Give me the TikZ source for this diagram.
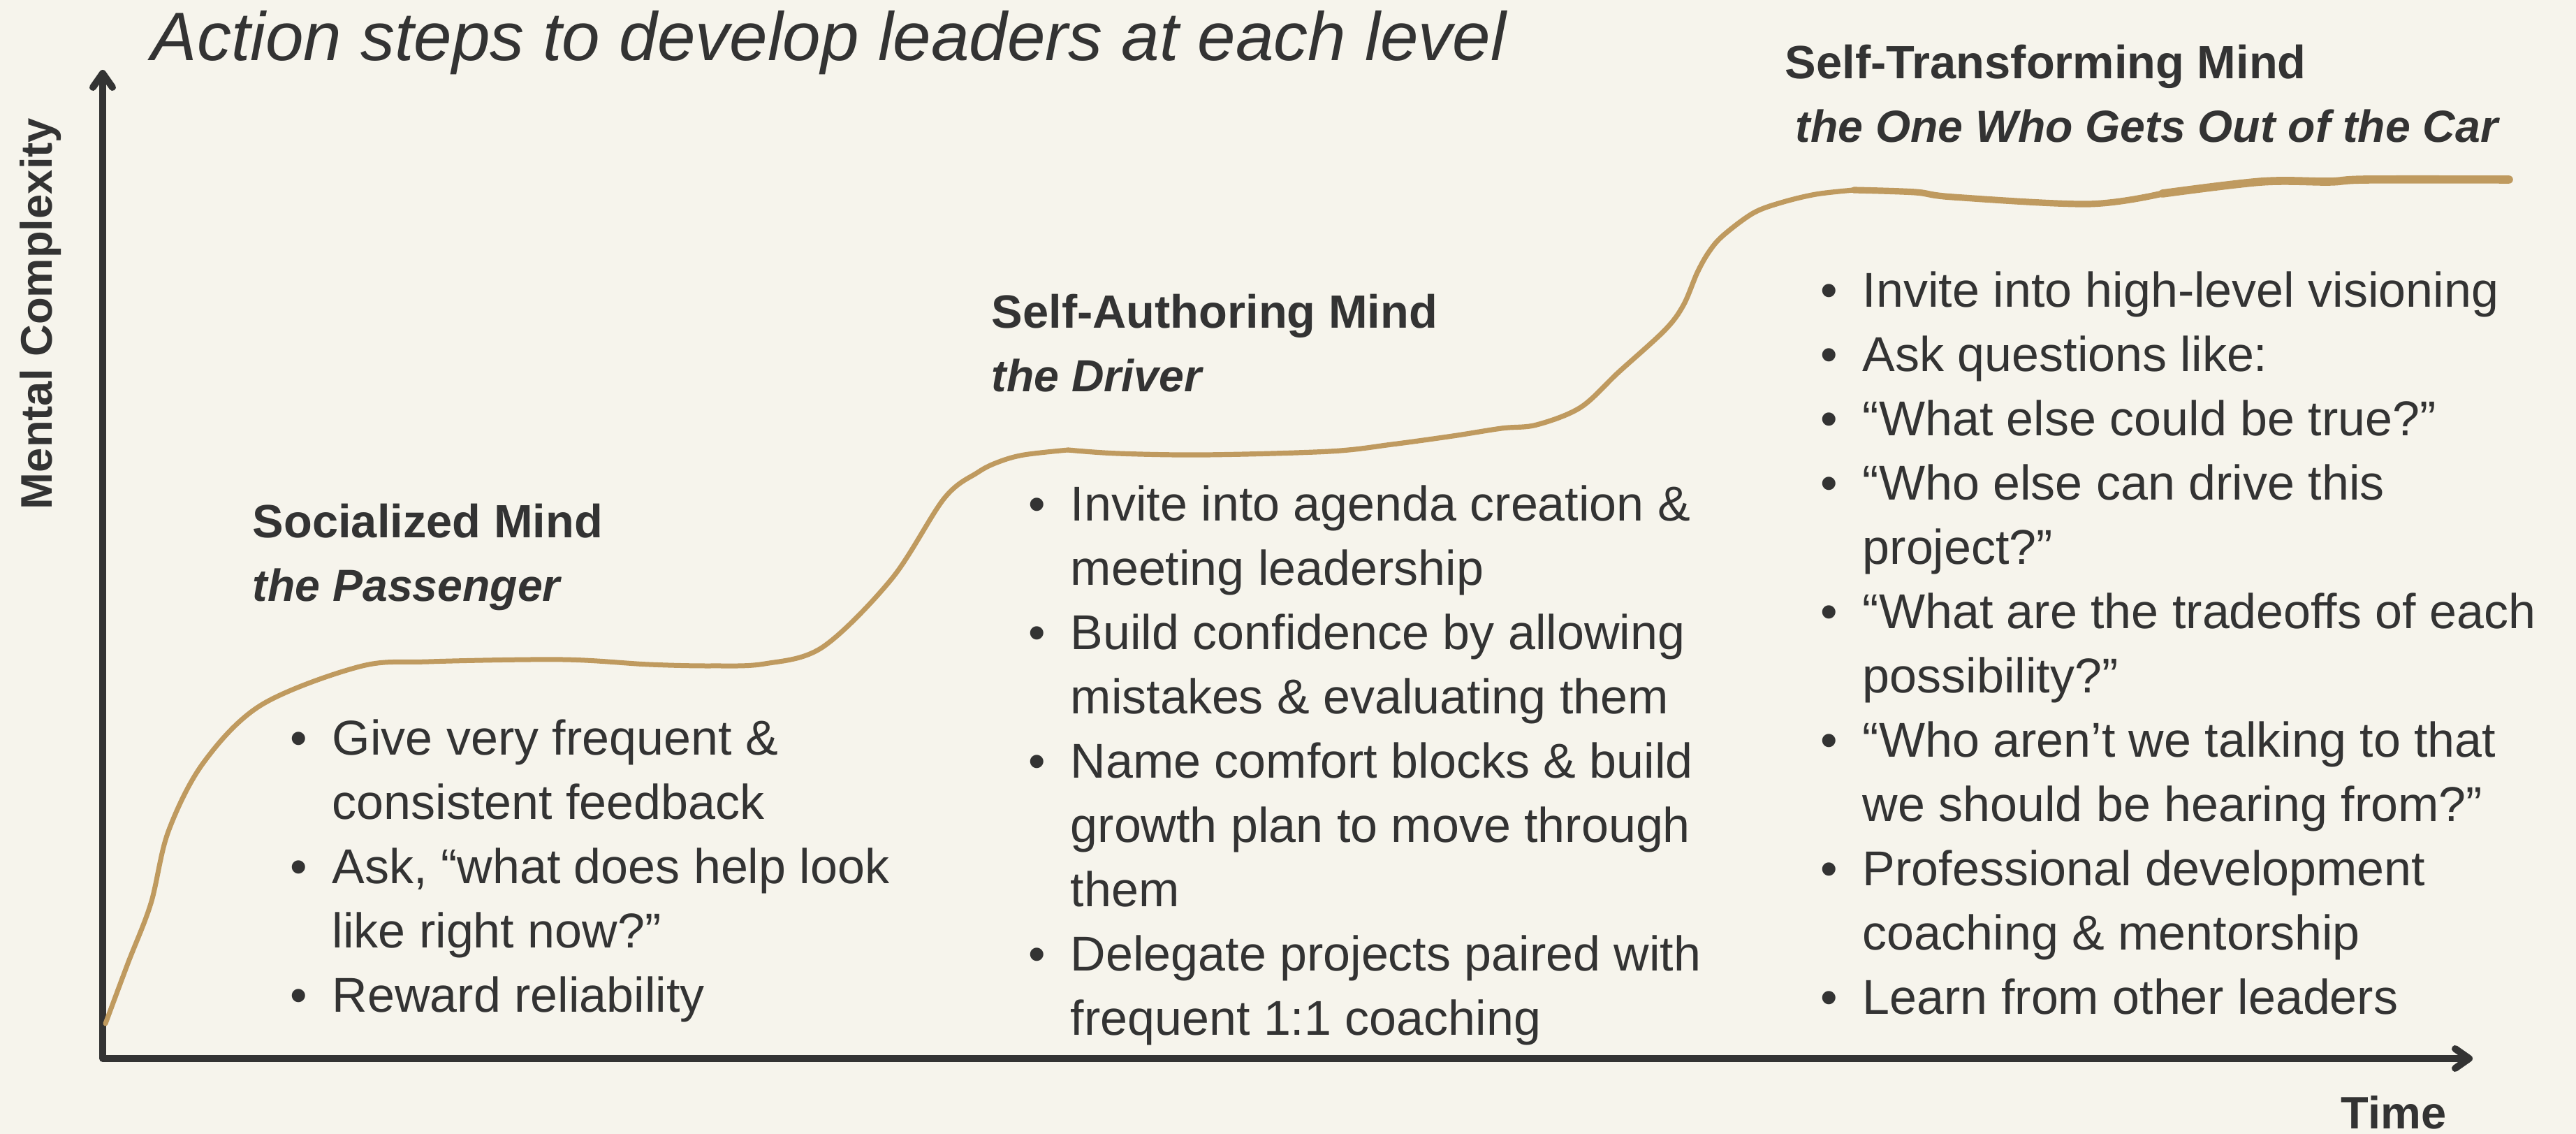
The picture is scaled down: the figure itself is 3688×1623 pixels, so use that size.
\documentclass[tikz,border=0pt]{standalone}
\usepackage{fontspec}
\usepackage{graphicx}
\setmainfont{Liberation Sans}
\usetikzlibrary{arrows.meta}
\definecolor{bg}{HTML}{F6F4EC}
\definecolor{ink}{HTML}{333333}
\definecolor{tan}{HTML}{BF9A5F}
\newcommand{\bodyfont}{\fontsize{17.5pt}{23pt}\selectfont}
\newcommand{\headfont}{\fontsize{16.7pt}{22.75pt}\selectfont\bfseries}
\newcommand{\headit}{\fontsize{16.1pt}{22.75pt}\selectfont\bfseries\itshape}
\newcommand{\linestack}[2]{\vtop{\baselineskip=#1\lineskiplimit=-1000pt\lineskip=0pt #2}}
\newcommand{\itm}[1]{\hbox{\llap{\textbullet\hspace{9pt}}#1}}
\newcommand{\cnt}[1]{\hbox{#1}}
\tikzset{
  body/.style={font=\bodyfont, text=ink, inner sep=0pt, anchor=base west},
  head/.style={font=\headfont, text=ink, inner sep=0pt, anchor=base west},
  axisline/.style={draw=ink, line width=2.5pt, line cap=round, line join=round,
    arrows={Straight Barb[length=5pt,width=7pt,line cap=round,line join=round]-Straight Barb[length=5pt,width=7pt,line cap=round,line join=round]}},
  curve/.style={draw=tan, line cap=round, line join=round}
}
\begin{document}
\begin{tikzpicture}[x=0.25pt, y=-0.25pt]
\fill[bg] (0,0) rectangle (3688,1623);
\useasboundingbox (0,0) rectangle (3688,1623);

% title
\node[inner sep=0pt, anchor=base west, text=ink, font=\fontsize{24.5pt}{30pt}\selectfont\itshape] (title) at (216,87) {Action steps to develop leaders at each level};

% axes
\coordinate (O) at (147,1515);
\coordinate (ytip) at (147,100);
\coordinate (xtip) at (3540,1515);
\draw[axisline] (ytip) -- (O) -- (xtip);

\node[inner sep=0pt, anchor=base, rotate=90, text=ink, font=\fontsize{15.85pt}{19pt}\selectfont\bfseries] (ylab) at (74,449) {Mental Complexity};
\node[inner sep=0pt, anchor=base, text=ink, font=\fontsize{16.25pt}{19pt}\selectfont\bfseries] (xlab) at (3427,1616) {Time};

% curve
\draw[curve, line width=1.75pt] plot[smooth, tension=0.55] coordinates {
 (151,1465) (183,1379) (216,1293) (241,1190) (291,1092) (374,1009) (515,954)
 (614,947) (805,944) (929,951) (1020,953) (1095,950) (1178,926) (1277,828)
 (1352,713) (1400,676) (1430,661) (1466,651) (1529,644)};
\draw[curve, line width=1.8pt] plot[smooth, tension=0.55] coordinates {
 (1529,644) (1600,649) (1725,651) (1904,646) (1993,636) (2080,624) (2150,613)
 (2200,608) (2263,583) (2317,533) (2383,473) (2410,437) (2430,390) (2447,360)
 (2467,337) (2510,305) (2550,290) (2600,278) (2654,272)};
\draw[curve, line width=2.3pt] plot[smooth, tension=0.55] coordinates {
 (2654,272) (2742,275) (2796,282) (2990,292) (3096,277)};
\draw[curve, line width=2.9pt] plot[smooth, tension=0.55] coordinates {
 (3096,277) (3238,260) (3335,260) (3388,257) (3592,257)};

% headings
\node[head] (h1) at (361,770) {\linestack{22.75pt}{\hbox{Socialized Mind}\hbox{\headit the Passenger}}};
\node[head] (h2) at (1419,470) {\linestack{22.75pt}{\hbox{Self-Authoring Mind}\hbox{\headit the Driver}}};
\node[head] (h3) at (2555,113) {\linestack{22.75pt}{\hbox{Self-Transforming Mind}\hbox{\hspace{3.75pt}\headit the One Who Gets Out of the Car}}};

% bullet lists
\node[body] (b1) at (475,1081) {\linestack{23pt}{%
\itm{Give very frequent \&}
\cnt{consistent feedback}
\itm{Ask, “what does help look}
\cnt{like right now?”}
\itm{Reward reliability}}};

\node[body] (b2) at (1532,746) {\linestack{23pt}{%
\itm{Invite into agenda creation \&}
\cnt{meeting leadership}
\itm{Build confidence by allowing}
\cnt{mistakes \& evaluating them}
\itm{Name comfort blocks \& build}
\cnt{growth plan to move through}
\cnt{them}
\itm{Delegate projects paired with}
\cnt{frequent 1:1 coaching}}};

\node[body] (b3) at (2666,440) {\linestack{23pt}{%
\itm{Invite into high-level visioning}
\itm{Ask questions like:}
\itm{“What else could be true?”}
\itm{“Who else can drive this}
\cnt{project?”}
\itm{“What are the tradeoffs of each}
\cnt{possibility?”}
\itm{“Who aren’t we talking to that}
\cnt{we should be hearing from?”}
\itm{Professional development}
\cnt{coaching \& mentorship}
\itm{Learn from other leaders}}};
\end{tikzpicture}
\end{document}
